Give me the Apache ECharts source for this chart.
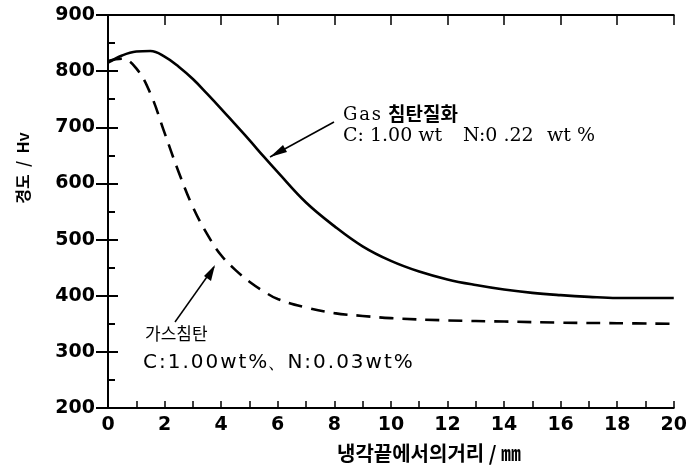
<!DOCTYPE html>
<html><head><meta charset="utf-8">
<script src="https://cdn.jsdelivr.net/npm/echarts@6/dist/echarts.min.js"></script>
<style>html,body{margin:0;padding:0;background:#fff}#c{width:690px;height:468px}</style>
</head><body><div id="c"></div>
<script>
const xTicks = [0,2,4,6,8,10,12,14,16,18,20];
const yTicks = [200,300,400,500,600,700,800,900];
const gasNitroX = [0,0.5,1,1.5,2,2.5,3,3.5,4,4.5,5,5.5,6,7,8,9,10,11,12,13,14,15,16,17,18,19,20];
const gasNitroY = [815,828,835,836,826,808,786,760,733,705,677,648,620,566,524,488,462,443,429,419,411,405,401,398,396,396,396];
const gasCarbX = [0,0.5,1,1.5,2,2.5,3,3.5,4,4.5,5,5.5,6,7,8,9,10,12,14,16,18,20];
const gasCarbY = [818,822,805,760,690,620,558,510,472,446,425,408,394,379,369,364,360,356,354,352,351,350];
const seriesNames = ['Gas침탄질화','가스침탄'];
const xTitle = '냉각끝에서의거리 / ㎜';
const yTitle = '경도  /  Hv';
const hair = s => s.split('').join('\u200A');

const chart = echarts.init(document.getElementById('c'));
const lab = {fontFamily:'DejaVu Sans', fontWeight:'bold', fontSize:19, color:'#000'};
const axLine = {show:true, lineStyle:{color:'#000', width:2}};
chart.setOption({
  animation:false,
  backgroundColor:'#fff',
  grid:{left:108, right:13, top:15, bottom:60},
  xAxis:[
    {type:'value', position:'bottom', min:0, max:20, interval:2,
     axisLine:axLine, axisTick:{show:true, inside:true, length:7, lineStyle:{color:'#000', width:1.5}},
     minorTick:{show:true, splitNumber:2, length:7, lineStyle:{color:'#000', width:1.5}},
     axisLabel:Object.assign({margin:8, formatter:v=>xTicks.includes(v)?String(v):''}, lab),
     splitLine:{show:false}},
    {type:'value', position:'top', min:0, max:20, interval:2,
     axisLine:axLine, axisTick:{show:true, inside:true, length:10, lineStyle:{color:'#000', width:1.5}},
     axisLabel:{show:false}, splitLine:{show:false}}
  ],
  yAxis:[
    {type:'value', position:'left', min:200, max:900, interval:100,
     axisLine:axLine, axisTick:{show:true, inside:true, length:10, lineStyle:{color:'#000', width:2}},
     minorTick:{show:true, splitNumber:2, length:7, lineStyle:{color:'#000', width:2}},
     axisLabel:Object.assign({margin:13, formatter:v=>yTicks.includes(v)?String(v):''}, lab),
     splitLine:{show:false}},
    {type:'value', position:'right', min:200, max:900, interval:100,
     axisLine:axLine, axisTick:{show:true, inside:true, length:12, lineStyle:{color:'#000', width:2}},
     axisLabel:{show:false}, splitLine:{show:false}}
  ],
  series:[
    {name:seriesNames[0], type:'line', smooth:0.4, showSymbol:false,
     data:gasNitroX.map((x,i)=>[x,gasNitroY[i]]),
     lineStyle:{color:'#000', width:2.6, type:'solid'}},
    {name:seriesNames[1], type:'line', smooth:0.4, showSymbol:false,
     data:gasCarbX.map((x,i)=>[x,gasCarbY[i]]),
     lineStyle:{color:'#000', width:2.6, type:[14,9]}}
  ],
  graphic:[
    {type:'text', x:23, y:168, rotation:Math.PI/2,
     style:{text:yTitle, font:'bold 16px "Noto Sans CJK KR"', fill:'#000', align:'center', verticalAlign:'middle'}},
    {type:'text', x:429, y:453,
     style:{text:xTitle, font:'bold 20px "Noto Sans CJK KR"', fill:'#000', align:'center', verticalAlign:'middle'}},
    {type:'text', x:343, y:115, style:{text:hair('Gas'), font:'18px "DejaVu Serif"', fill:'#000', verticalAlign:'middle'}},
    {type:'text', x:388, y:114, style:{text:'침탄질화', font:'bold 19px "Noto Sans CJK KR"', fill:'#000', verticalAlign:'middle'}},
    {type:'text', x:343, y:136, style:{text:'C: 1.00 wt', font:'19px "DejaVu Serif"', fill:'#000', verticalAlign:'middle'}},
    {type:'text', x:463, y:136, style:{text:'N:0 .22', font:'19px "DejaVu Serif"', fill:'#000', verticalAlign:'middle'}},
    {type:'text', x:547, y:136, style:{text:'wt %', font:'19px "DejaVu Serif"', fill:'#000', verticalAlign:'middle'}},
    {type:'line', shape:{x1:334, y1:122, x2:270, y2:157}, style:{stroke:'#000', lineWidth:1.5}},
    {type:'polygon', shape:{points:[[270,157],[283,145],[287,152]]}, style:{fill:'#000'}},
    {type:'text', x:145, y:334, style:{text:'가스침탄', font:'17px "Noto Sans CJK KR"', fill:'#000', verticalAlign:'middle'}},
    {type:'text', x:143, y:363, style:{text:hair('C:1.00wt%')+'\u3001'+hair('N:0.03wt%'), font:'20px "DejaVu Sans"', fill:'#000', verticalAlign:'middle'}},
    {type:'line', shape:{x1:175, y1:322, x2:214, y2:267}, style:{stroke:'#000', lineWidth:1.5}},
    {type:'polygon', shape:{points:[[215,265],[204,276],[211,281]]}, style:{fill:'#000'}}
  ]
});
</script></body></html>
